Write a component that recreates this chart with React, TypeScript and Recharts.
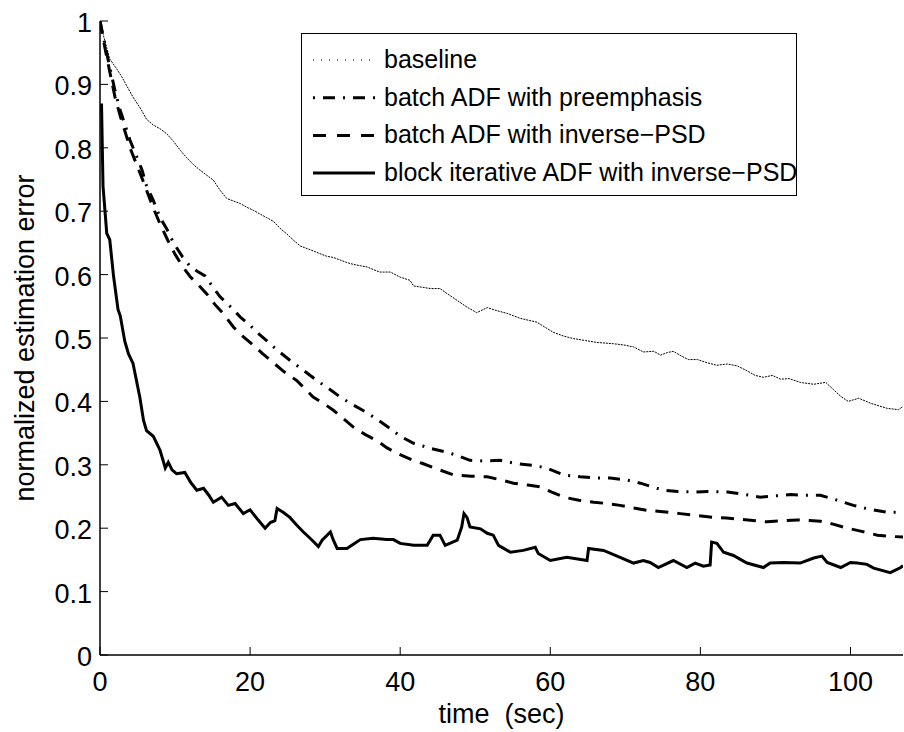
import React from "react";
import { LineChart, Line, XAxis, YAxis } from "recharts";

const baselinePts: [number, number][] = [
  [0, 1.0], [0.5, 0.975], [1.3, 0.94], [2.2, 0.925], [2.9, 0.912], [3.6, 0.897], [4.4, 0.88], [5.5, 0.86],
  [6.2, 0.845], [7.1, 0.836], [8, 0.83], [8.9, 0.822], [9.8, 0.81], [10.7, 0.796], [11.5, 0.785], [12.4, 0.774],
  [13.3, 0.765], [14.2, 0.757], [15.1, 0.749], [16, 0.733], [16.9, 0.72], [17.8, 0.716], [18.7, 0.712],
  [19.6, 0.706], [20.5, 0.701], [21.4, 0.695], [22.2, 0.69], [23.1, 0.684], [24, 0.673], [24.9, 0.664],
  [25.8, 0.654], [26.7, 0.645], [27.6, 0.641], [28.5, 0.637], [29.3, 0.633], [30.2, 0.629], [31.1, 0.627],
  [32, 0.623], [32.9, 0.619], [33.8, 0.616], [34.7, 0.614], [35.6, 0.612], [36.4, 0.608], [37.3, 0.604],
  [38.7, 0.604], [40, 0.596], [41.3, 0.591], [41.8, 0.582], [43, 0.58], [44, 0.578], [45.3, 0.578],
  [46.5, 0.568], [48, 0.556], [49, 0.548], [50.2, 0.54], [51.6, 0.548], [52.9, 0.543], [54.2, 0.539],
  [55.1, 0.535], [56, 0.531], [57.1, 0.528], [58.2, 0.525], [59.3, 0.517], [60.4, 0.509], [61.8, 0.503],
  [63.1, 0.499], [64.7, 0.496], [66.2, 0.493], [67.3, 0.492], [68.4, 0.491], [69.8, 0.489], [71.1, 0.486],
  [72.4, 0.478], [73.8, 0.479], [74.7, 0.473], [75.6, 0.477], [76.4, 0.479], [77.4, 0.472], [78.4, 0.466],
  [79.6, 0.466], [80.9, 0.461], [82.2, 0.457], [83.6, 0.459], [84.9, 0.456], [86.1, 0.449], [87.3, 0.441],
  [88.4, 0.438], [89.6, 0.441], [90.7, 0.435], [91.8, 0.436], [93.3, 0.43], [95.1, 0.427], [96.7, 0.43],
  [97.7, 0.419], [98.7, 0.408], [99.7, 0.4], [101.1, 0.405], [102.7, 0.397], [103.8, 0.393], [104.9, 0.389],
  [106.4, 0.387], [107, 0.392],
];

const preemphasisPts: [number, number][] = [
  [0, 1.0], [0.7, 0.96], [1.3, 0.927], [2, 0.89], [2.7, 0.859], [4, 0.812], [5.6, 0.765], [6.2, 0.74],
  [7.1, 0.717], [8, 0.69], [8.9, 0.672], [9.8, 0.65], [11, 0.628], [12, 0.613], [13, 0.605], [14, 0.598],
  [14.7, 0.586], [16, 0.565], [17.5, 0.548], [18.7, 0.533], [20, 0.52], [21, 0.508], [22.2, 0.496],
  [23.5, 0.482], [25.3, 0.465], [27, 0.45], [28.9, 0.433], [30.5, 0.42], [32, 0.407], [33.5, 0.396],
  [35, 0.386], [36.5, 0.375], [38.7, 0.357], [40, 0.345], [41.8, 0.334], [44, 0.326], [46.2, 0.32],
  [48, 0.313], [49.3, 0.307], [51, 0.306], [53.3, 0.307], [55.5, 0.302], [57.8, 0.299], [59.5, 0.295],
  [61.8, 0.284], [64, 0.281], [66.2, 0.279], [68, 0.279], [70.2, 0.276], [72, 0.271], [74.2, 0.263],
  [75.1, 0.26], [77, 0.258], [79.1, 0.257], [81, 0.258], [83.6, 0.257], [86, 0.253], [88, 0.249], [90, 0.251],
  [92, 0.253], [94, 0.252], [96, 0.252], [98, 0.245], [100.4, 0.236], [102.5, 0.23], [104.9, 0.225], [107, 0.225],
];

const inversePsdPts: [number, number][] = [
  [0, 1.0], [0.7, 0.955], [1.3, 0.92], [2, 0.88], [2.7, 0.85], [4, 0.8], [5.6, 0.752], [7.1, 0.705], [8, 0.68],
  [9, 0.655], [10, 0.632], [11, 0.613], [12, 0.597], [13, 0.585], [14.2, 0.57], [15.3, 0.553], [16.4, 0.539],
  [17.8, 0.517], [19, 0.503], [20.4, 0.489], [21.7, 0.475], [23.1, 0.461], [24.5, 0.447], [26.2, 0.433],
  [27.3, 0.42], [28.4, 0.407], [30, 0.395], [31.1, 0.386], [32.5, 0.372], [33.8, 0.359], [35.3, 0.348],
  [36.9, 0.338], [38.2, 0.327], [39.6, 0.318], [41.5, 0.308], [43, 0.302], [45, 0.293], [47.1, 0.284],
  [49.5, 0.282], [51.6, 0.281], [53.5, 0.276], [55.1, 0.271], [57, 0.268], [58.7, 0.265], [60.2, 0.257],
  [61.8, 0.249], [63.8, 0.244], [65.8, 0.241], [67.5, 0.239], [69.3, 0.236], [71, 0.232], [73, 0.228],
  [75, 0.226], [77.3, 0.223], [79.5, 0.22], [81.8, 0.217], [83.5, 0.216], [85.3, 0.214], [87, 0.212],
  [88.9, 0.21], [91, 0.212], [92.9, 0.213], [94.5, 0.212], [96, 0.211], [97.8, 0.206], [99.6, 0.2],
  [101.5, 0.195], [103.6, 0.189], [105.5, 0.187], [107, 0.186],
];

const blockIterPts: [number, number][] = [
  [0.2, 0.87], [0.4, 0.74], [0.9, 0.665], [1.3, 0.655], [1.8, 0.598], [2.4, 0.545], [2.7, 0.535], [3.3, 0.495],
  [3.8, 0.475], [4.4, 0.46], [5.3, 0.407], [5.8, 0.37], [6.2, 0.354], [7.1, 0.345], [8, 0.323], [8.7, 0.295],
  [9.1, 0.304], [9.6, 0.292], [10.2, 0.286], [11.3, 0.288], [12.1, 0.272], [12.9, 0.26], [13.8, 0.263],
  [14.5, 0.252], [15.1, 0.241], [16.2, 0.249], [17.1, 0.236], [18, 0.239], [19.1, 0.223], [20, 0.229],
  [21, 0.214], [22, 0.2], [22.7, 0.209], [23.3, 0.212], [23.6, 0.231], [24.4, 0.225], [25.3, 0.217],
  [26.2, 0.205], [27.1, 0.194], [28.1, 0.183], [29.1, 0.171], [29.6, 0.181], [30.7, 0.194], [31.1, 0.181],
  [31.6, 0.168], [32.9, 0.168], [33.8, 0.175], [34.7, 0.182], [36.4, 0.184], [38.2, 0.182], [39.1, 0.182],
  [40, 0.176], [41.8, 0.173], [43.6, 0.173], [44.4, 0.189], [45.3, 0.189], [46, 0.173], [47.6, 0.181],
  [48.2, 0.202], [48.5, 0.223], [48.9, 0.217], [49.3, 0.202], [50.7, 0.199], [51.6, 0.192], [52.4, 0.189],
  [53.1, 0.173], [54.7, 0.162], [56.4, 0.165], [58, 0.17], [58.4, 0.16], [60, 0.149], [62.2, 0.154],
  [64.9, 0.149], [65.1, 0.168], [67.1, 0.165], [69.3, 0.154], [71.1, 0.145], [72.4, 0.149], [73.3, 0.146],
  [74.4, 0.138], [76.4, 0.149], [78.2, 0.138], [79.3, 0.145], [80.4, 0.14], [81.3, 0.142], [81.5, 0.178],
  [82.2, 0.176], [83.1, 0.162], [84.4, 0.157], [86.2, 0.145], [88.4, 0.138], [89.3, 0.145], [91.1, 0.146],
  [93.3, 0.145], [95.1, 0.153], [96.2, 0.156], [96.9, 0.146], [98.7, 0.138], [100, 0.146], [100.9, 0.145],
  [102.2, 0.143], [103.1, 0.137], [105.3, 0.13], [106.7, 0.138], [107, 0.141],
];

const xTicks = [0, 20, 40, 60, 80, 100];
const yTicks = [0, 0.1, 0.2, 0.3, 0.4, 0.5, 0.6, 0.7, 0.8, 0.9, 1];
const xDomain: [number, number] = [0, 107];
const yDomain: [number, number] = [0, 1];

const seriesNames = [
  "baseline",
  "batch ADF with preemphasis",
  "batch ADF with inverse\u2212PSD",
  "block iterative ADF with inverse\u2212PSD",
];

const toRows = (pts: [number, number][]) => pts.map(([t, v]) => ({ t, v }));

const FONT = "'Liberation Sans', Arial, Helvetica, sans-serif";

const seriesStyles = [
  { width: 1, dash: "2 1" as string | undefined, legendDash: "1 7" as string | undefined },
  { width: 3, dash: "12 8 2 8", legendDash: "2 8 12 8" },
  { width: 3, dash: "13 9", legendDash: "13 11" },
  { width: 3, dash: undefined, legendDash: undefined },
];

const fmt = (v: number) => String(Math.round(v * 10) / 10);

const BottomTick = (props: any) => {
  const { x, y, payload } = props;
  return (
    <g>
      <line x1={x} y1={y} x2={x} y2={y - 8} stroke="#000" strokeWidth={1} />
      <text x={x} y={y + 36} textAnchor="middle" fontSize={27} fontFamily={FONT} fill="#000">
        {fmt(payload.value)}
      </text>
    </g>
  );
};

const TopTick = (props: any) => {
  const { x, y } = props;
  return <line x1={x} y1={y} x2={x} y2={y + 8} stroke="#000" strokeWidth={1} />;
};

const LeftTick = (props: any) => {
  const { x, y, payload } = props;
  return (
    <g>
      <line x1={x} y1={y} x2={x + 8} y2={y} stroke="#000" strokeWidth={1} />
      <text x={x - 8} y={y + 11} textAnchor="end" fontSize={27} fontFamily={FONT} fill="#000">
        {fmt(payload.value)}
      </text>
    </g>
  );
};

const RightTick = (props: any) => {
  const { x, y } = props;
  return <line x1={x} y1={y} x2={x - 8} y2={y} stroke="#000" strokeWidth={1} />;
};

const LegendBox = () => (
  <svg
    width={496}
    height={163}
    style={{ position: "absolute", left: 301, top: 33, display: "block", fontFamily: FONT }}
  >
    <rect x={0.5} y={0.5} width={495} height={162} fill="#fff" stroke="#000" strokeWidth={1} />
    {seriesNames.map((name, i) => {
      const st = seriesStyles[i];
      const cy = 27 + i * 37.7;
      return (
        <g key={name}>
          <line
            x1={12}
            y1={cy}
            x2={74}
            y2={cy}
            stroke="#000"
            strokeWidth={st.width === 1 ? 1 : 3}
            strokeDasharray={st.legendDash}
          />
          <text x={83} y={cy + 8} fontSize={25} fill="#000">
            {name}
          </text>
        </g>
      );
    })}
  </svg>
);

const series = [baselinePts, preemphasisPts, inversePsdPts, blockIterPts];

export default function App() {
  return (
    <div style={{ position: "absolute", left: 0, top: 0, width: 904, height: 732, background: "#fff" }}>
      <LineChart
        width={904}
        height={732}
        margin={{ top: 21, right: 1, left: 0, bottom: 0 }}
        style={{ fontFamily: FONT }}
      >
        <XAxis
          dataKey="t"
          type="number"
          domain={xDomain}
          ticks={xTicks}
          allowDataOverflow
          height={77}
          tickSize={0}
          tickMargin={0}
          tick={<BottomTick />}
          axisLine={{ stroke: "#000", strokeWidth: 1.5 }}
          tickLine={false}
          label={(p: any) => {
            const vb = p.viewBox || { x: 100, y: 655, width: 803, height: 77 };
            return (
              <text
                x={vb.x + vb.width / 2}
                y={vb.y + 68}
                textAnchor="middle"
                fontSize={27}
                fontFamily={FONT}
                fill="#000"
                style={{ whiteSpace: "pre" }}
              >
                {"time  (sec)"}
              </text>
            );
          }}
        />
        <XAxis
          xAxisId="top"
          dataKey="t"
          type="number"
          orientation="top"
          domain={xDomain}
          ticks={xTicks}
          allowDataOverflow
          height={0}
          tickSize={0}
          tickMargin={0}
          tick={<TopTick />}
          axisLine={{ stroke: "#000", strokeWidth: 1.5 }}
          tickLine={false}
        />
        <YAxis
          type="number"
          domain={yDomain}
          ticks={yTicks}
          allowDataOverflow
          width={100}
          tickSize={0}
          tickMargin={0}
          tick={<LeftTick />}
          axisLine={{ stroke: "#000", strokeWidth: 1.5 }}
          tickLine={false}
          label={(p: any) => {
            const vb = p.viewBox || { x: 0, y: 21, width: 100, height: 634 };
            const cx = vb.x + 34;
            const cy = vb.y + vb.height / 2;
            return (
              <text
                x={cx}
                y={cy}
                transform={`rotate(-90 ${cx} ${cy})`}
                textAnchor="middle"
                fontSize={27}
                fontFamily={FONT}
                fill="#000"
              >
                normalized estimation error
              </text>
            );
          }}
        />
        <YAxis
          yAxisId="right"
          type="number"
          orientation="right"
          domain={yDomain}
          ticks={yTicks}
          allowDataOverflow
          width={0}
          tickSize={0}
          tickMargin={0}
          tick={<RightTick />}
          axisLine={{ stroke: "#000", strokeWidth: 1.5 }}
          tickLine={false}
        />
        {series.map((pts, i) => (
          <Line
            key={seriesNames[i]}
            name={seriesNames[i]}
            data={toRows(pts)}
            dataKey="v"
            type="linear"
            stroke="#000"
            strokeWidth={seriesStyles[i].width}
            strokeDasharray={seriesStyles[i].dash}
            dot={false}
            activeDot={false}
            isAnimationActive={false}
          />
        ))}
      </LineChart>
      <LegendBox />
    </div>
  );
}
